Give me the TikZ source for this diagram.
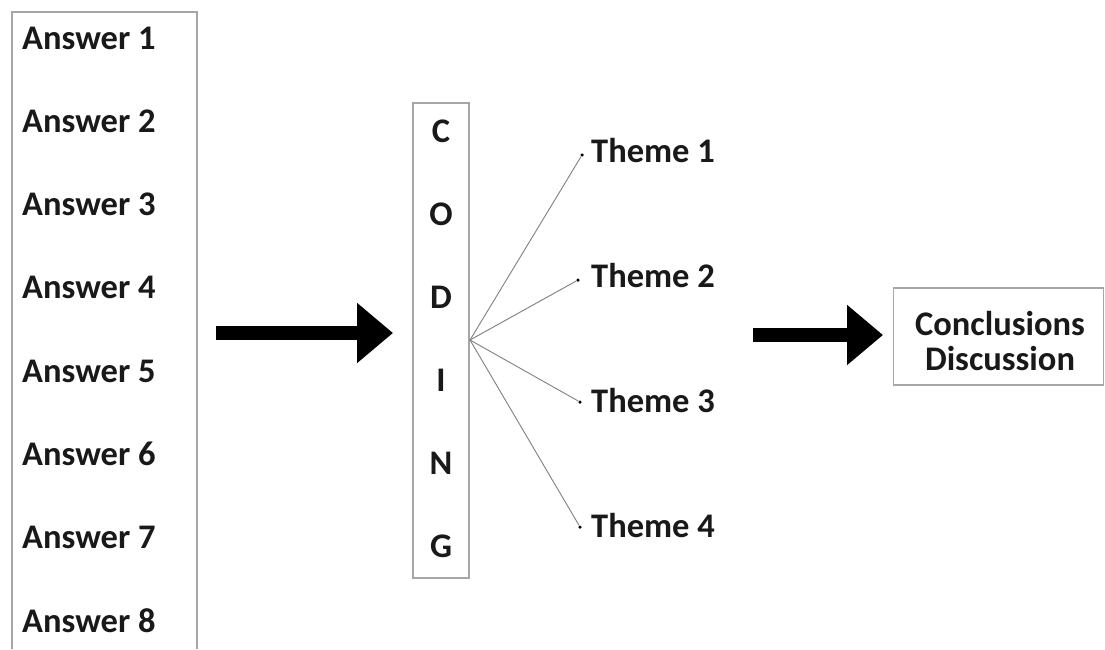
\documentclass[tikz,border=0pt]{standalone}
\usepackage{fontspec}
\setmainfont{Carlito}
\usetikzlibrary{arrows.meta}
\tikzset{
  lbl/.style={font=\fontsize{34.5}{35}\selectfont\bfseries, inner sep=0pt, text=black!90},
  boxline/.style={draw=black!35, line width=1.6pt},
  fan/.style={draw=black!50, line width=0.9pt},
  bigarrow/.style={line width=14pt, -{Triangle[length=36pt,width=58pt]}},
  dotmark/.style={circle, fill=black, inner sep=0pt, minimum size=3.5pt}
}
\begin{document}
\begin{tikzpicture}[x=1pt,y=-1pt]
\useasboundingbox[fill=white] (0,0) rectangle (1105,649);
% answers box (open at bottom)
\draw[boxline] (12,649) -- (12,12) -- (197,12) -- (197,649);
\foreach \i in {1,...,8}{
  \node[lbl, anchor=base west] (ans\i) at (22,{49+83.3*(\i-1)}) {Answer \i};
}
% coding box
\node[boxline, minimum width=56pt, minimum height=475pt, inner sep=0pt] (coding) at (441,340.5) {};
\foreach \l [count=\i] in {C,O,D,I,N,G}{
  \node[lbl, anchor=base] (c\i) at (441,{142+83*(\i-1)}) {\l};
}
\coordinate (fanorigin) at (470,340);
% themes
\foreach \i/\dx/\dy/\by in {1/582/155/162, 2/578/280/287, 3/580/402/412, 4/580/527/537}{
  \node[dotmark] (d\i) at (\dx,\dy) {};
  \node[lbl, anchor=base west] (theme\i) at (591,\by) {Theme \i};
  \draw[fan] (fanorigin) -- (d\i);
}
% conclusions box
\node[boxline, minimum width=210pt, minimum height=97pt, inner sep=0pt] (concl) at (998.5,336.5) {};
\node[lbl, anchor=base] (c1t) at (1000,335) {Conclusions};
\node[lbl, anchor=base] (c2t) at (1000,370) {Discussion};
% arrows
\coordinate (a1s) at (216,333);
\coordinate (a1e) at (393,333);
\coordinate (a2s) at (753,335);
\coordinate (a2e) at (883,335);
\draw[bigarrow] (a1s) -- (a1e);
\draw[bigarrow] (a2s) -- (a2e);
\end{tikzpicture}
\end{document}
